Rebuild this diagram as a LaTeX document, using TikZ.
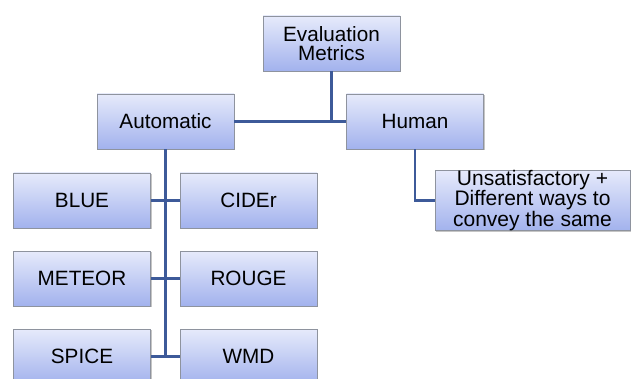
\documentclass[tikz,border=0pt]{standalone}
\usepackage{fontspec}
\setmainfont{Liberation Sans}
\usetikzlibrary{shadows}
\definecolor{boxtop}{HTML}{E6EAFB}
\definecolor{boxbot}{HTML}{A2B2ED}
\definecolor{boxline}{HTML}{8E939E}
\definecolor{connc}{HTML}{3D5A99}
\begin{document}
\begin{tikzpicture}[x=1pt,y=-1pt,
  box/.style={draw=boxline, line width=0.8pt, top color=boxtop, bottom color=boxbot,
    minimum width=137pt, minimum height=55pt, inner sep=0pt, align=center,
    font=\fontsize{20.7}{19.5}\selectfont,
    drop shadow={shadow xshift=1.3pt, shadow yshift=-1.3pt, fill=black!45, opacity=0.5}},
  connector/.style={draw=connc, line width=2.4pt}]
\useasboundingbox (0,0) rectangle (631,379);
\clip (0,0) rectangle (631,379);
\fill[white] (0,0) rectangle (631,379);
\node[box] (eval) at (331.5,43.5) {Evaluation\\Metrics};
\node[box] (auto) at (165.5,121.5) {Automatic};
\node[box] (human) at (415,121.5) {Human};
\node[box] (blue) at (82,200.5) {BLUE};
\node[box] (cider) at (248.5,200.5) {CIDEr};
\node[box] (meteor) at (82,278.5) {METEOR};
\node[box] (rouge) at (248.5,278.5) {ROUGE};
\node[box] (spice) at (82,356.5) {SPICE};
\node[box] (wmd) at (248.5,356.5) {WMD};
\node[box, minimum width=195pt, font=\fontsize{21}{17.5}\selectfont] (unsat) at (532.5,200.5) {Unsatisfactory +\\Different ways to\\convey the same};
\draw[connector] (eval.south) -- (eval.south |- auto.east);
\draw[connector] (auto.east) -- (human.west);
\draw[connector] (auto.south) -- (auto.south |- spice.east);
\draw[connector] (blue.east) -- (cider.west);
\draw[connector] (meteor.east) -- (rouge.west);
\draw[connector] (spice.east) -- (wmd.west);
\draw[connector] (human.south) -- (human.south |- unsat.west) -- (unsat.west);
\end{tikzpicture}
\end{document}
